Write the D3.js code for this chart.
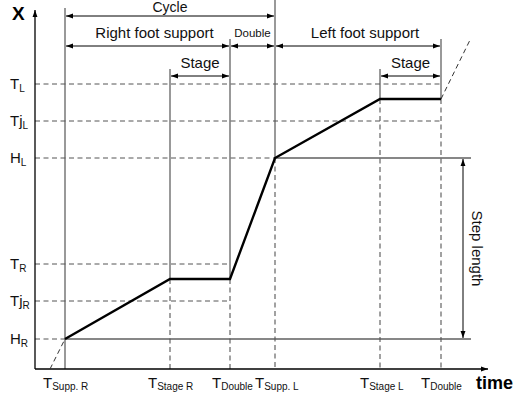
<!DOCTYPE html>
<html><head><meta charset="utf-8">
<script src="https://cdn.jsdelivr.net/npm/d3@7"></script>
<style>body{margin:0;background:#fff}svg{display:block;font-family:"Liberation Sans",Arial,sans-serif}</style>
</head><body><svg id="c" width="528" height="400"></svg>
<script>
// Time instants (x) and their labels
const timeKeys = ["suppR","stageR","doubleR","suppL","stageL","doubleL"];
const timeValues = [0.6, 2.7, 3.9, 4.8, 6.9, 8.12];
const timeMain = ["T","T","T","T","T","T"];
const timeSubs = ["Supp. R","Stage R","Double","Supp. L","Stage L","Double"];
// Position levels (y) and their labels
const levelMain = ["H","Tj","T","H","Tj","T"];
const levelSubs = ["R","R","R","L","L","L"];
const levelValues = [3.0, 6.8, 10.5, 21.1, 24.8, 28.5];
// Foot trajectory (time, position)
const trajT = [0.6, 2.7, 3.9, 4.8, 6.9, 8.12];
const trajX = [3.0, 9.0, 9.0, 21.1, 27.0, 27.0];
const extStart = [[0.3, 0], [0.6, 3.0]];
const extEnd = [[8.12, 27.0], [8.7, 32.9]];
// Phase spans
const phaseNames = ["Cycle","Right foot support","Double","Left foot support","Stage","Stage"];
const phaseFrom = [0.6, 0.6, 3.9, 4.8, 2.7, 6.9];
const phaseTo = [4.8, 3.9, 4.8, 8.12, 3.9, 8.12];
const phaseRow = [0, 1, 1, 1, 2, 2];

const svg = d3.select("#c");
const x = d3.scaleLinear().domain([0, 9.02]).range([35, 486]);
const y = d3.scaleLinear().domain([0, 35.7]).range([369, 12]);
const rowY = [16, 46, 76];
const rowTop = [8, 39, 69];

const defs = svg.append("defs");
function marker(id, orient) {
  defs.append("marker").attr("id", id).attr("viewBox", "0 0 10 10")
    .attr("refX", 10).attr("refY", 5).attr("markerWidth", 7).attr("markerHeight", 7)
    .attr("markerUnits", "userSpaceOnUse").attr("orient", orient)
    .append("path").attr("d", "M0,1.5L10,5L0,8.5Z").attr("fill", "#000");
}
marker("ah", "auto");
marker("ahs", "auto-start-reverse");

const gray = "#555";
const dash = "5,3.5";

// Horizontal dashed level lines
const levelEnds = [65, 230, 230, 275, 441, 441];
levelValues.forEach((v, i) => {
  svg.append("line").attr("x1", x(0)).attr("x2", levelEnds[i])
    .attr("y1", y(v)).attr("y2", y(v))
    .attr("stroke", gray).attr("stroke-width", 1).attr("stroke-dasharray", dash);
});
// Solid H lines to the right
[levelValues[0], levelValues[3]].forEach((v, k) => {
  svg.append("line").attr("x1", k === 0 ? x(trajT[0]) : x(trajT[3])).attr("x2", 471)
    .attr("y1", y(v)).attr("y2", y(v)).attr("stroke", "#111").attr("stroke-width", 1.1);
});

// Vertical lines: solid top part, dashed lower part
const vTop = [rowTop[0], rowTop[2], rowTop[1], 0, rowTop[2], rowTop[1]];
timeValues.forEach((t, i) => {
  const yTraj = y(trajX[i]);
  svg.append("line").attr("x1", x(t)).attr("x2", x(t)).attr("y1", vTop[i]).attr("y2", yTraj)
    .attr("stroke", gray).attr("stroke-width", 1.2);
  if (i > 0) {
    svg.append("line").attr("x1", x(t)).attr("x2", x(t)).attr("y1", yTraj).attr("y2", y(0))
      .attr("stroke", gray).attr("stroke-width", 1.1).attr("stroke-dasharray", dash);
  } else {
    svg.append("line").attr("x1", x(t)).attr("x2", x(t)).attr("y1", yTraj).attr("y2", y(0))
      .attr("stroke", gray).attr("stroke-width", 1.2);
  }
});

// Axes
svg.append("line").attr("x1", x(0)).attr("x2", x(0)).attr("y1", y(0)).attr("y2", 10)
  .attr("stroke", "#000").attr("stroke-width", 1.3).attr("marker-end", "url(#ah)");
svg.append("line").attr("x1", x(0)).attr("x2", 488).attr("y1", y(0)).attr("y2", y(0))
  .attr("stroke", "#000").attr("stroke-width", 1.3).attr("marker-end", "url(#ah)");

// Trajectory
const line = d3.line().x(d => x(d[0])).y(d => y(d[1]));
svg.append("path").datum(trajT.map((t, i) => [t, trajX[i]])).attr("d", line)
  .attr("fill", "none").attr("stroke", "#000").attr("stroke-width", 2.4).attr("stroke-linejoin", "miter");
[extStart, extEnd].forEach(e => {
  svg.append("path").datum(e).attr("d", line).attr("fill", "none")
    .attr("stroke", "#333").attr("stroke-width", 1).attr("stroke-dasharray", "5,3.5");
});

// Phase arrows and labels
const labelShift = [0, 7, 0, 7, 0, 0];
phaseNames.forEach((n, i) => {
  const yy = rowY[phaseRow[i]];
  svg.append("line").attr("x1", x(phaseFrom[i]) + 1).attr("x2", x(phaseTo[i]) - 1)
    .attr("y1", yy).attr("y2", yy).attr("stroke", "#000").attr("stroke-width", 1)
    .attr("marker-start", "url(#ahs)").attr("marker-end", "url(#ah)");
  const small = n === "Double";
  const top = i === 0;
  svg.append("text").attr("x", (x(phaseFrom[i]) + x(phaseTo[i])) / 2 + labelShift[i])
    .attr("y", top ? 11.5 : yy - (small ? 9 : 8)).attr("text-anchor", "middle")
    .attr("font-size", top ? 14 : (small ? 11.5 : 15)).attr("fill", "#111").text(n);
});

// Step length arrow
svg.append("line").attr("x1", 463).attr("x2", 463).attr("y1", y(levelValues[3]) + 1).attr("y2", y(levelValues[0]) - 1)
  .attr("stroke", "#000").attr("stroke-width", 1)
  .attr("marker-start", "url(#ahs)").attr("marker-end", "url(#ah)");
svg.append("text").attr("transform", `translate(472,${(y(levelValues[3]) + y(levelValues[0])) / 2}) rotate(90)`)
  .attr("text-anchor", "middle").attr("font-size", 15).attr("fill", "#111").text("Step length");

// Level labels
levelMain.forEach((m, i) => {
  const t = svg.append("text").attr("x", 10).attr("y", y(levelValues[i]) + 5)
    .attr("font-size", 15).attr("fill", "#111");
  t.append("tspan").text(m);
  t.append("tspan").attr("dy", 3).attr("font-size", 10).text(levelSubs[i]);
});

// Time labels
const timeLabelX = [43, 148, 212, 255, 360, 421];
timeMain.forEach((m, i) => {
  const t = svg.append("text").attr("x", timeLabelX[i]).attr("y", 388)
    .attr("font-size", 15).attr("fill", "#111");
  t.append("tspan").text(m);
  t.append("tspan").attr("dy", 2).attr("font-size", 10).text(timeSubs[i]);
});

// Axis titles
svg.append("text").attr("x", 12).attr("y", 20).attr("font-size", 19).attr("font-weight", "bold").text("X");
svg.append("text").attr("x", 476).attr("y", 389).attr("font-size", 18).attr("font-weight", "bold").text("time");
</script></body></html>
